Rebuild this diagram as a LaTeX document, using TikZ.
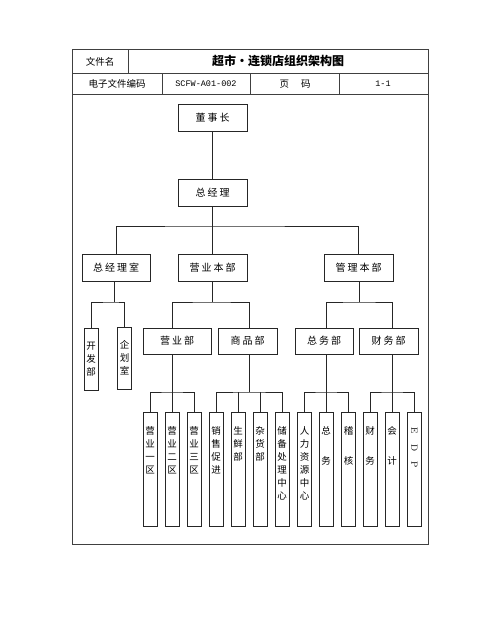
\documentclass[tikz,border=0pt]{standalone}
\usepackage{fontspec}
\usepackage{graphicx}
\newfontfamily\cjk{Noto Sans CJK SC}
\newfontfamily\monofnt{Liberation Mono}
\begin{document}
\begin{tikzpicture}[x=1pt,y=-1pt,
  frame/.style={draw=black!75, line width=0.7pt},
  conn/.style={draw=black!85, line width=0.8pt},
  box/.style={draw=black!85, line width=0.8pt, fill=white, inner sep=0pt, font=\cjk\fontsize{10}{12}\selectfont},
  hbox/.style={box, minimum width=69pt, minimum height=27pt},
  mbox/.style={box, minimum width=59pt, minimum height=26pt},
  sbox/.style={box, minimum width=14pt, minimum height=62pt},
  vbox/.style={box, minimum width=14pt, minimum height=114pt},
  vtext/.style={anchor=north, inner sep=0pt, align=center, font=\cjk\fontsize{9.5}{13}\selectfont},
  htext/.style={inner sep=0pt, font=\cjk\fontsize{9.5}{11}\selectfont}
]
\useasboundingbox (0,0) rectangle (500,635);
\fill[white] (0,0) rectangle (500,635);
% header frame
\draw[frame] (72,49) rectangle (428,544);
\draw[frame] (72,73) -- (428,73);
\draw[frame] (72,94) -- (428,94);
\draw[frame] (128,49) -- (128,73);
\draw[frame] (162,73) -- (162,94);
\draw[frame] (250,73) -- (250,94);
\draw[frame] (339,73) -- (339,94);
\node[htext] (t1) at (100,61.5) {文件名};
\node[inner sep=0pt, font=\cjk\bfseries\fontsize{12}{14}\selectfont] (t2) at (278,61) {超市·连锁店组织架构图};
\node[htext] (t3) at (117,84) {电子文件编码};
\node[inner sep=0pt, font=\monofnt\fontsize{8.5}{10}\selectfont] (t4) at (206,84) {SCFW-A01-002};
\node[htext] (t5) at (295,84) {页\hspace{12pt}码};
\node[inner sep=0pt, font=\monofnt\fontsize{8.5}{10}\selectfont] (t6) at (383,84) {1-1};

% level 0-2
\node[hbox] (dsz) at (212.5,117.5) {董\hspace{2pt}事\hspace{2pt}长};
\node[hbox] (zjl) at (212.5,192.5) {总\hspace{2pt}经\hspace{2pt}理};
\node[hbox, minimum width=68pt] (zjls) at (116,267.5) {总\hspace{2pt}经\hspace{2pt}理\hspace{2pt}室};
\node[hbox] (yybb) at (212.5,267.5) {营\hspace{2pt}业\hspace{2pt}本\hspace{2pt}部};
\node[hbox] (glbb) at (358.5,267.5) {管\hspace{2pt}理\hspace{2pt}本\hspace{2pt}部};

\draw[conn] (dsz.south) -- (zjl.south |- zjl.north);
\coordinate (b1) at (212.5,226);
\draw[conn] (zjl.south) -- (b1);
\draw[conn] (zjls.north) |- (b1) -| (glbb.north);
\draw[conn] (b1) -- (yybb.north);

% small vertical boxes
\node[sbox] (kfb) at (91,359) {};
\node[sbox] (qhs) at (124.5,358.5) {};
\node[vtext, yshift=-14pt] (kfbt) at (kfb.north) {开\\发\\部};
\node[vtext, yshift=-13pt] (qhst) at (qhs.north) {企\\划\\室};
\coordinate (b2) at (114,302);
\draw[conn] (zjls.south -| b2) -- (b2);
\draw[conn] (kfb.north) |- (b2) -| (qhs.north);

% level 3
\node[mbox, minimum width=68pt] (yyb) at (177,341) {营\hspace{2pt}业\hspace{2pt}部};
\node[mbox] (spb) at (247.5,341) {商\hspace{2pt}品\hspace{2pt}部};
\node[mbox, minimum width=58pt] (zwb) at (324,341) {总\hspace{2pt}务\hspace{2pt}部};
\node[mbox] (cwb) at (388.5,341) {财\hspace{2pt}务\hspace{2pt}部};

% bottom boxes
\foreach \n/\x in {y1/150,y2/172,y3/194,s1/216,s2/238,s3/260,s4/282,g1/304.5,g2/326,g3/348.5,c1/370,c2/392,c3/414.5}
  \node[vbox] (\n) at (\x,469) {};
\node[vtext, yshift=-15pt] at (y1.north) {营\\业\\一\\区};
\node[vtext, yshift=-15pt] at (y2.north) {营\\业\\二\\区};
\node[vtext, yshift=-15pt] at (y3.north) {营\\业\\三\\区};
\node[vtext, yshift=-15pt] at (s1.north) {销\\售\\促\\进};
\node[vtext, yshift=-15pt] at (s2.north) {生\\鲜\\部};
\node[vtext, yshift=-15pt] at (s3.north) {杂\\货\\部};
\node[vtext, yshift=-15pt] at (s4.north) {储\\备\\处\\理\\中\\心};
\node[vtext, yshift=-15pt] at (g1.north) {人\\力\\资\\源\\中\\心};
\node[vtext, yshift=-15pt, font=\cjk\fontsize{9.5}{30}\selectfont] at (g2.north) {总\\务};
\node[vtext, yshift=-15pt, font=\cjk\fontsize{9.5}{30}\selectfont] at (g3.north) {稽\\核};
\node[vtext, yshift=-15pt, font=\cjk\fontsize{9.5}{30}\selectfont] at (c1.north) {财\\务};
\node[vtext, yshift=-15pt, font=\cjk\fontsize{9.5}{30}\selectfont] at (c2.north) {会\\计};
\node[vtext, yshift=-16pt, font=\fontsize{9}{17}\selectfont] at (c3.north) {\rotatebox{-90}{E}\\\rotatebox{-90}{D}\\\rotatebox{-90}{P}};

% level 2 -> 3
\coordinate (b3) at (212.5,302);
\coordinate (b4) at (359,302);
\draw[conn] (yybb.south) -- (b3);
\draw[conn] (glbb.south -| b4) -- (b4);
\draw[conn] (yyb.north -| y2) |- (b3) -| (spb.north -| 249,0);
\draw[conn] (zwb.north -| g2) |- (b4) -| (cwb.north -| c2);

% level 3 -> 4
\coordinate (j1) at (172,392);
\coordinate (j2) at (249,392);
\coordinate (j3) at (326,392);
\coordinate (j4) at (392,392);
\draw[conn] (yyb.south -| j1) -- (j1);
\draw[conn] (spb.south -| j2) -- (j2);
\draw[conn] (zwb.south -| j3) -- (j3);
\draw[conn] (cwb.south -| j4) -- (j4);
\draw[conn] (y1.north) |- (j1) -| (y3.north);
\draw[conn] (j1) -- (y2.north);
\draw[conn] (s1.north) |- (j2) -| (s4.north);
\draw[conn] (s2.north) -- (s2.north |- j2);
\draw[conn] (s3.north) -- (s3.north |- j2);
\draw[conn] (g1.north) |- (j3) -| (g3.north);
\draw[conn] (j3) -- (g2.north);
\draw[conn] (c1.north) |- (j4) -| (c3.north);
\draw[conn] (j4) -- (c2.north);
\end{tikzpicture}
\end{document}
